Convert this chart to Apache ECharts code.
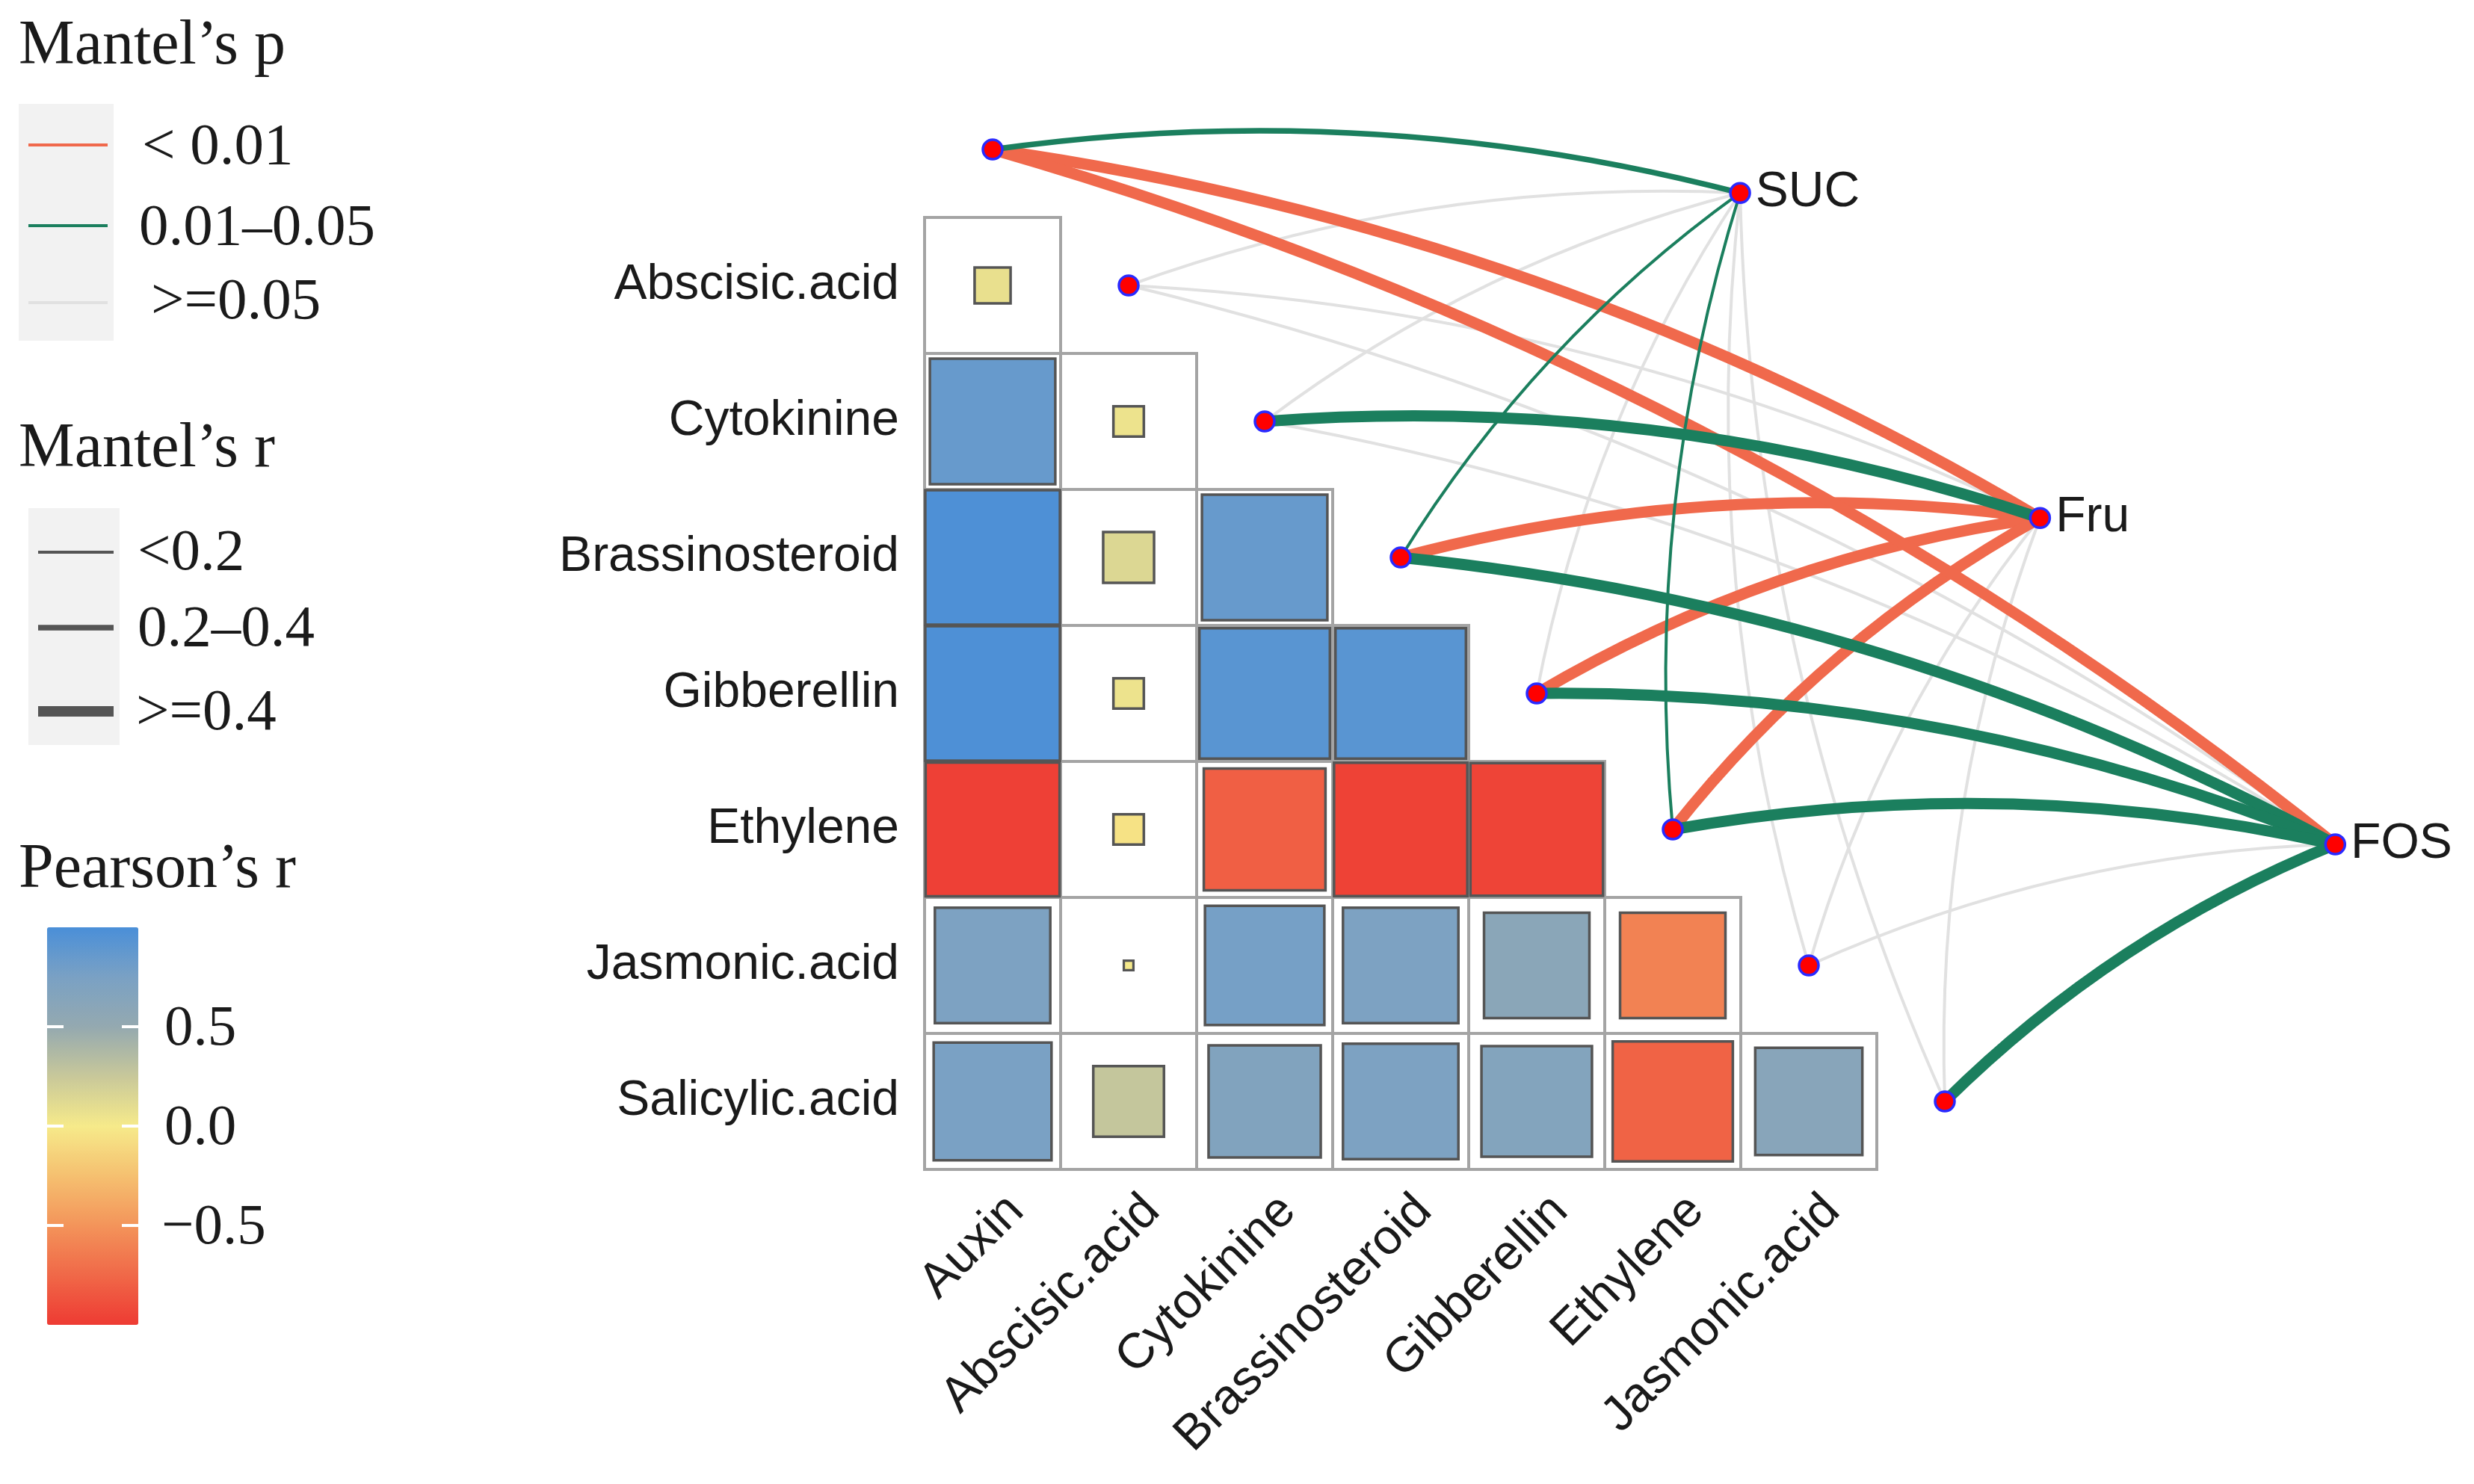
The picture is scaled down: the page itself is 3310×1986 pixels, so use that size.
<!DOCTYPE html>
<html><head><meta charset="utf-8">
<script src="https://cdn.jsdelivr.net/npm/echarts@6/dist/echarts.min.js"></script>
<style>html,body{margin:0;padding:0;background:#fff}#c{width:3310px;height:1986px}</style>
</head><body><div id="c"></div>
<script>
// ---------------- data ----------------
const envVars = ['Auxin','Abscisic.acid','Cytokinine','Brassinosteroid','Gibberellin','Ethylene','Jasmonic.acid','Salicylic.acid'];
const targets = ['SUC','Fru','FOS'];

// Pearson's r, lower triangle: row = envVars[k], columns = envVars[0..k-1]
const rAbscisic       = [0.07];
const rCytokinine     = [0.85, 0.05];
const rBrassinosteroid= [0.98, 0.14, 0.85];
const rGibberellin    = [0.98, 0.05, 0.92, 0.92];
const rEthylene       = [-0.97, -0.05, -0.80, -0.96, -0.95];
const rJasmonic       = [0.72, 0.005, 0.77, 0.72, 0.60, -0.60];
const rSalicylic      = [0.75, 0.27, 0.68, 0.72, 0.66, -0.78, 0.62];
const pearsonRows = [rAbscisic, rCytokinine, rBrassinosteroid, rGibberellin, rEthylene, rJasmonic, rSalicylic];

// Mantel test (per target, in envVars order)
const mantelP_SUC = [0.03, 0.40, 0.30, 0.04, 0.20, 0.04, 0.50, 0.30];
const mantelR_SUC = [0.30, 0.10, 0.12, 0.15, 0.10, 0.15, 0.05, 0.10];
const mantelP_Fru = [0.005, 0.50, 0.02, 0.004, 0.003, 0.006, 0.40, 0.20];
const mantelR_Fru = [0.55, 0.05, 0.45, 0.50, 0.50, 0.48, 0.10, 0.15];
const mantelP_FOS = [0.004, 0.30, 0.20, 0.02, 0.02, 0.03, 0.30, 0.02];
const mantelR_FOS = [0.60, 0.10, 0.15, 0.45, 0.45, 0.45, 0.10, 0.42];
const mantelP = [mantelP_SUC, mantelP_Fru, mantelP_FOS];
const mantelR = [mantelR_SUC, mantelR_Fru, mantelR_FOS];

// legend texts
const pLegendLabels = ['< 0.01', '0.01\u20130.05', '>=0.05'];
const rLegendLabels = ['<0.2', '0.2\u20130.4', '>=0.4'];
const colorTicks = [0.5, 0, -0.5];
const colorTickLabels = ['0.5', '0.0', '\u22120.5'];

// ---------------- layout / style ----------------
const GRID = {left: 1237, top: 109, cell: 182, xMax: 11, yMax: 9};
const targetPos = [[5.995, 0.82], [8.20, 3.21], [10.37, 5.61]];
const pColors = ['#F0694C', '#1B7F5E', '#E1E1E1'];
const rWidths = [4, 7.5, 15];
const SERIF = '"Liberation Serif", "Times New Roman", serif';
const SANS = '"Liberation Sans", Arial, sans-serif';
const TXT = '#1a1a1a';

function pClass(p) { return p < 0.01 ? 0 : (p < 0.05 ? 1 : 2); }
function rClass(r) { return r < 0.2 ? 0 : (r < 0.4 ? 1 : 2); }

// build series data
const cellData = [];
pearsonRows.forEach((row, i) => row.forEach((r, j) => cellData.push([j, i + 1, r])));

const nodeData = envVars.map((n, k) => ({name: n, value: [k + 0.5, k + 0.5]}));
const targetData = targets.map((t, i) => ({name: t, value: targetPos[i]}));

const linkGroups = [[], [], []];
targets.forEach((t, ti) => {
  envVars.forEach((e, k) => {
    const pc = pClass(mantelP[ti][k]);
    const rc = rClass(mantelR[ti][k]);
    linkGroups[pc].push({coords: [[k + 0.5, k + 0.5], targetPos[ti]], lineStyle: {width: pc === 2 ? rWidths[0] : rWidths[rc]}});
  });
});

function linesSeries(group, z) {
  return {
    type: 'lines', coordinateSystem: 'cartesian2d', silent: true, z: z,
    lineStyle: {color: pColors[group], opacity: 1, curveness: 0.1, cap: 'round'},
    data: linkGroups[group]
  };
}

// ---------------- legend graphics ----------------
const g = [];
function gText(x, y, text, size, family) {
  g.push({type: 'text', x: x, y: y, silent: true,
    style: {text: text, fontSize: size, fontFamily: family, fill: TXT, verticalAlign: 'middle', align: 'left'}});
}
// Mantel's p
gText(25, 63, 'Mantel\u2019s p', 84, SERIF);
g.push({type: 'rect', shape: {x: 25, y: 139, width: 127, height: 317}, style: {fill: '#f2f2f2'}, silent: true});
[194, 302, 405].forEach((y, i) => {
  g.push({type: 'line', shape: {x1: 38, y1: y, x2: 144, y2: y}, style: {stroke: pColors[i], lineWidth: 4}, silent: true});
});
gText(190, 198, pLegendLabels[0], 79, SERIF);
gText(186, 306, pLegendLabels[1], 79, SERIF);
gText(202, 405, pLegendLabels[2], 79, SERIF);
// Mantel's r
gText(25, 602, 'Mantel\u2019s r', 84, SERIF);
g.push({type: 'rect', shape: {x: 38, y: 680, width: 122, height: 317}, style: {fill: '#f2f2f2'}, silent: true});
[739, 840, 952].forEach((y, i) => {
  g.push({type: 'line', shape: {x1: 51, y1: y, x2: 152, y2: y}, style: {stroke: '#555555', lineWidth: [4, 7.5, 14][i]}, silent: true});
});
gText(184, 741, rLegendLabels[0], 79, SERIF);
gText(184, 843, rLegendLabels[1], 79, SERIF);
gText(182, 955, rLegendLabels[2], 79, SERIF);
// Pearson's r
gText(25, 1165, 'Pearson\u2019s r', 84, SERIF);
const CB = {x: 63, y: 1241, w: 122, h: 532};
colorTicks.forEach((v, i) => {
  const y = CB.y + (1 - v) / 2 * CB.h;
  g.push({type: 'line', shape: {x1: CB.x, y1: y, x2: CB.x + 22, y2: y}, style: {stroke: '#ffffff', lineWidth: 4}, silent: true, z: 100});
  g.push({type: 'line', shape: {x1: CB.x + CB.w - 22, y1: y, x2: CB.x + CB.w, y2: y}, style: {stroke: '#ffffff', lineWidth: 4}, silent: true, z: 100});
  gText(i === 2 ? 216 : 220, y + 4, colorTickLabels[i], 77, SERIF);
});

// ---------------- chart ----------------
const chart = echarts.init(document.getElementById('c'));
chart.setOption({
  backgroundColor: '#ffffff',
  animation: false,
  grid: {left: GRID.left, top: GRID.top, width: GRID.cell * GRID.xMax, height: GRID.cell * GRID.yMax, containLabel: false},
  xAxis: {type: 'value', min: 0, max: GRID.xMax, show: false},
  yAxis: {type: 'value', min: 0, max: GRID.yMax, inverse: true, show: false},
  visualMap: {
    type: 'continuous', min: -1, max: 1, dimension: 2, seriesIndex: 1,
    left: CB.x, top: CB.y, itemWidth: CB.w, itemHeight: CB.h, padding: 0,
    calculable: false, orient: 'vertical',
    inRange: {color: ['#EE3B33', '#F06848', '#F3945A', '#F5C070', '#F6EA8A', '#C8C89A', '#94A9B0', '#7AA1C4', '#4A8FD8']},
    textStyle: {color: 'transparent'}
  },
  graphic: g,
  series: [
    { // cell boxes
      type: 'custom', silent: true, z: 2,
      data: cellData,
      renderItem: function (params, api) {
        const p = api.coord([api.value(0), api.value(1)]);
        const s = api.size([1, 1]);
        return {type: 'rect', shape: {x: p[0], y: p[1], width: s[0], height: s[1]},
          style: {fill: '#ffffff', stroke: '#a4a4a4', lineWidth: 4}};
      }
    },
    { // coloured squares
      type: 'custom', silent: true, z: 3,
      data: cellData,
      renderItem: function (params, api) {
        const p = api.coord([api.value(0), api.value(1)]);
        const s = api.size([1, 1]);
        const r = api.value(2);
        const side = s[0] * Math.sqrt(Math.abs(r));
        const cx = p[0] + s[0] / 2, cy = p[1] + s[1] / 2;
        return {type: 'rect', shape: {x: cx - side / 2, y: cy - side / 2, width: side, height: side},
          style: {fill: api.visual('color'), stroke: '#555555', lineWidth: Math.min(3.5, side / 4)}};
      }
    },
    linesSeries(2, 4),
    linesSeries(0, 5),
    linesSeries(1, 6),
    { // env nodes
      type: 'scatter', silent: true, z: 10,
      symbol: 'circle', symbolSize: 26,
      itemStyle: {color: '#ff0000', borderColor: '#2a2aff', borderWidth: 3.5, opacity: 1},
      data: nodeData
    },
    { // target nodes
      type: 'scatter', silent: true, z: 10,
      symbol: 'circle', symbolSize: 26,
      itemStyle: {color: '#ff0000', borderColor: '#2a2aff', borderWidth: 3.5, opacity: 1},
      label: {show: true, position: 'right', distance: 6, formatter: '{b}', fontSize: 66, fontFamily: SANS, color: TXT},
      data: targetData
    },
    { // row labels
      type: 'custom', silent: true, z: 11,
      data: envVars.slice(1).map((n, i) => [0, i + 1.5, i + 1]),
      renderItem: function (params, api) {
        const p = api.coord([api.value(0), api.value(1)]);
        return {type: 'text', x: p[0] - 34, y: p[1],
          style: {text: envVars[api.value(2)], fontSize: 66, fontFamily: SANS, fill: TXT, align: 'right', verticalAlign: 'middle'}};
      }
    },
    { // column labels
      type: 'custom', silent: true, z: 11,
      data: envVars.slice(0, 7).map((n, j) => [j + 0.5, 8, j]),
      renderItem: function (params, api) {
        const p = api.coord([api.value(0), api.value(1)]);
        return {type: 'text', x: p[0] + 8, y: p[1] + 22, rotation: Math.PI / 4,
          style: {text: envVars[api.value(2)], fontSize: 66, fontFamily: SANS, fill: TXT, align: 'right', verticalAlign: 'top'}};
      }
    }
  ]
});
</script>
</body></html>
